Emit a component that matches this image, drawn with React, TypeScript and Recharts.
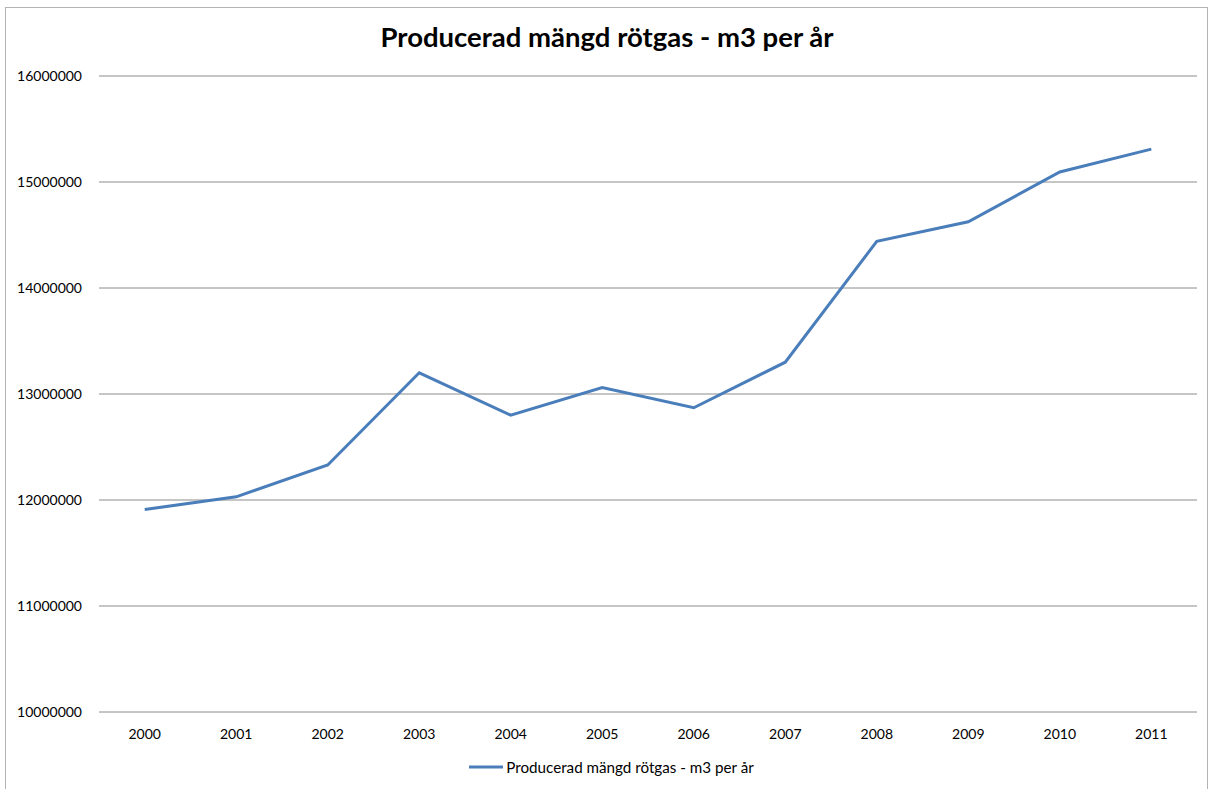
import React from 'react';
import { LineChart, Line, XAxis, YAxis, CartesianGrid, Legend } from 'recharts';

const years = ['2000', '2001', '2002', '2003', '2004', '2005', '2006', '2007', '2008', '2009', '2010', '2011'];
const production = [11910000, 12030000, 12330000, 13200000, 12800000, 13060000, 12870000, 13300000, 14440000, 14625000, 15095000, 15310000];
const yTicks = [10000000, 11000000, 12000000, 13000000, 14000000, 15000000, 16000000];
const seriesName = 'Producerad mängd rötgas - m3 per år';
const titleText = 'Producerad mängd rötgas - m3 per år';

const data = years.map((y, i) => ({ year: y, value: production[i] }));

const FONT = 'Lato, "Open Sans", sans-serif';
const LINE_COLOR = '#4a7ebb';

const renderLegend = () => (
  <div style={{ display: 'flex', justifyContent: 'center', alignItems: 'center', fontFamily: FONT, fontSize: 15.2, color: '#000', paddingLeft: 8 }}>
    <svg width={36} height={10} style={{ marginRight: 2 }}>
      <line x1={1} y1={5} x2={35} y2={5} stroke={LINE_COLOR} strokeWidth={3} />
    </svg>
    <span>{seriesName}</span>
  </div>
);

export default function App() {
  return (
    <div style={{ position: 'absolute', left: 0, top: 0, width: 1214, height: 789, background: '#fff', overflow: 'hidden' }}>
      <div style={{ position: 'absolute', left: 5, top: 7, width: 1203, height: 820, border: '1px solid #b3b3b3', boxSizing: 'border-box' }} />
      <div style={{ position: 'absolute', left: 0, top: 20, width: 1214, textAlign: 'center', fontFamily: FONT, fontWeight: 700, fontSize: 27.5, color: '#000' }}>
        {titleText}
      </div>
      <div style={{ position: 'absolute', left: 0, top: 0 }}>
        <LineChart width={1214} height={789} data={data} margin={{ top: 76, right: 17, bottom: 47, left: 9 }}>
          <CartesianGrid horizontal={true} vertical={false} stroke="#8c8c8c" strokeWidth={1} />
          <XAxis
            dataKey="year"
            axisLine={false}
            tickLine={false}
            tickSize={0}
            tickMargin={17}
            height={30}
            padding={{ left: 45.7, right: 45.7 }}
            tick={{ fontFamily: FONT, fontSize: 14, fill: '#000' }}
            interval={0}
          />
          <YAxis
            domain={[10000000, 16000000]}
            ticks={yTicks}
            axisLine={false}
            tickLine={false}
            tickSize={0}
            tickMargin={17}
            width={90}
            tick={{ fontFamily: FONT, fontSize: 14, fill: '#000' }}
            interval={0}
          />
          <Line
            type="linear"
            dataKey="value"
            name={seriesName}
            stroke={LINE_COLOR}
            strokeWidth={3}
            dot={false}
            activeDot={false}
            isAnimationActive={false}
          />
          <Legend
            layout="horizontal"
            verticalAlign="middle"
            align="center"
            content={renderLegend}
            wrapperStyle={{ top: 758, left: 0, width: 1214 }}
          />
        </LineChart>
      </div>
    </div>
  );
}
